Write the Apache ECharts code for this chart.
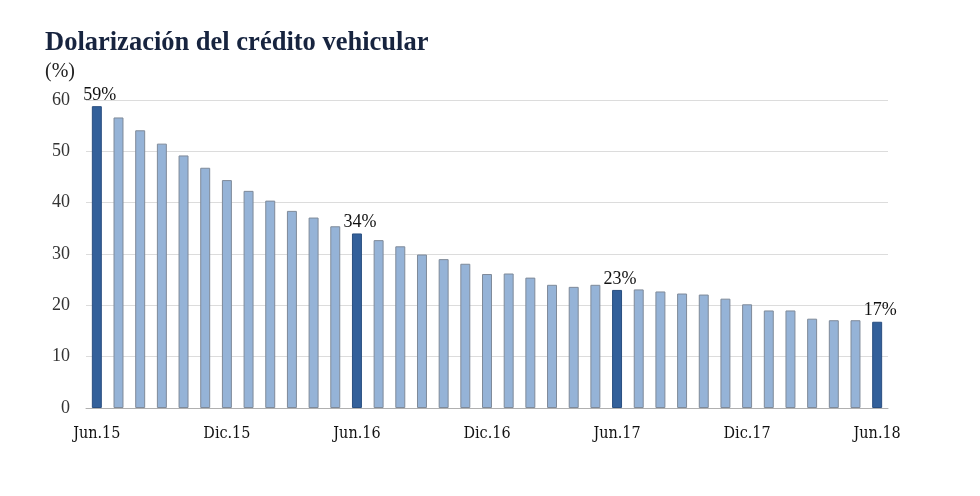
<!DOCTYPE html>
<html>
<head>
<meta charset="utf-8">
<script src="https://cdn.jsdelivr.net/npm/echarts@6/dist/echarts.min.js"></script>
<style>
html,body{margin:0;padding:0;background:#fff;}
#chart{width:980px;height:496px;}
</style>
</head>
<body>
<div id="chart"></div>
<script>
const months = ['Jun.15','Jul.15','Ago.15','Set.15','Oct.15','Nov.15','Dic.15','Ene.16','Feb.16','Mar.16','Abr.16','May.16',
  'Jun.16','Jul.16','Ago.16','Set.16','Oct.16','Nov.16','Dic.16','Ene.17','Feb.17','Mar.17','Abr.17','May.17',
  'Jun.17','Jul.17','Ago.17','Set.17','Oct.17','Nov.17','Dic.17','Ene.18','Feb.18','Mar.18','Abr.18','May.18','Jun.18'];
const dolarizacion = [58.8,56.6,54.1,51.5,49.2,46.8,44.4,42.3,40.4,38.4,37.1,35.4,
  34.0,32.7,31.5,29.9,29.0,28.1,26.1,26.2,25.4,24.0,23.6,24.0,
  23.0,23.1,22.7,22.3,22.1,21.3,20.2,19.0,19.0,17.4,17.1,17.1,16.8];
const highlightLabels = {0:'59%',12:'34%',24:'23%',36:'17%'};
const yTicks = [0,10,20,30,40,50,60];

const chart = echarts.init(document.getElementById('chart'));
const serif = '"Liberation Serif", "DejaVu Serif", serif';
const data = dolarizacion.map((v,i)=>{
  const hl = highlightLabels[i] !== undefined;
  return {
    value: v,
    itemStyle: hl ? {color:'#33609a', borderColor:'#2a4f80', borderWidth:1}
                  : {color:'#95b3d7', borderColor:'#7f8a99', borderWidth:1},
    label: hl ? {show:true, position:'top', formatter: highlightLabels[i], distance: 2, offset:[3,0],
                 fontFamily: serif, fontSize: 18, color:'#111'} : {show:false}
  };
});
chart.setOption({
  animation:false,
  title:[
    {text:'Dolarización del crédito vehicular', left:40, top:25,
     textStyle:{fontFamily:serif, fontWeight:'bold', fontSize:26.5, color:'#17243f'}},
    {text:'(%)', left:40, top:57,
     textStyle:{fontFamily:serif, fontWeight:'normal', fontSize:20, color:'#222'}}
  ],
  grid:{left:86, right:92, top:100, bottom:88},
  xAxis:{
    type:'category', data:months,
    axisLine:{lineStyle:{color:'#b0b0b0', width:1}},
    axisTick:{show:false},
    axisLabel:{interval:5, margin:18, fontFamily:'"DejaVu Serif Condensed", "Liberation Serif", serif', fontSize:16, color:'#111'}
  },
  yAxis:{
    type:'value', min:yTicks[0], max:yTicks[yTicks.length-1], interval:10,
    axisLine:{show:false}, axisTick:{show:false},
    splitLine:{lineStyle:{color:'#dcdcdc', width:1}},
    axisLabel:{margin:16, fontFamily:serif, fontSize:18, color:'#333'}
  },
  series:[{type:'bar', data:data, barWidth:'46%'}]
});
</script>
</body>
</html>
